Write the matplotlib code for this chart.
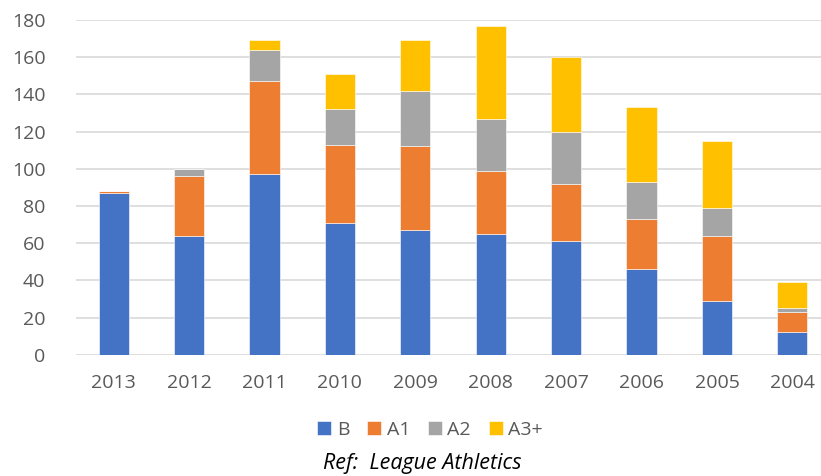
import matplotlib.pyplot as plt
import numpy as np

years = ["2013", "2012", "2011", "2010", "2009", "2008", "2007", "2006", "2005", "2004"]
b_vals = [87, 64, 97, 71, 67, 65, 61, 46, 29, 12]
a1_vals = [1, 32, 50, 42, 45, 34, 31, 27, 35, 11]
a2_vals = [0, 4, 17, 19, 30, 28, 28, 20, 15, 2]
a3_vals = [0, 0, 5, 19, 27, 50, 40, 40, 36, 14]

series = [("B", b_vals, "#4472C4"),
          ("A1", a1_vals, "#ED7D31"),
          ("A2", a2_vals, "#A5A5A5"),
          ("A3+", a3_vals, "#FFC000")]

plt.rcParams['font.family'] = ['Open Sans', 'DejaVu Sans']

fig = plt.figure(figsize=(8.21, 4.76), dpi=100)
ax = fig.add_axes([76/821, 0.2548, 1 - 76/821, 0.958 - 0.2548])

x = np.arange(len(years))
bottom = np.zeros(len(years))
for name, vals, col in series:
    ax.bar(x, vals, 0.4, bottom=bottom, color=col, label=name,
           edgecolor="white", linewidth=0.4, zorder=3)
    bottom += np.array(vals)

ax.set_ylim(0, 180)
ax.set_yticks(range(0, 181, 20))
ax.set_xlim(-0.5, 9.38)
ax.set_xticks(x)
ax.set_xticklabels(years)
ax.grid(axis="y", color="#d9d9d9", linewidth=1.2, zorder=0)
for s in ax.spines.values():
    s.set_visible(False)
ax.tick_params(axis="both", length=0, colors="#595959", labelsize=14)
ax.tick_params(axis="x", pad=14)
ax.tick_params(axis="y", pad=22)

fig.legend(loc="center", bbox_to_anchor=(430/821, 1 - 430/476), ncol=4,
           frameon=False, handlelength=0.72, handleheight=0.72,
           handletextpad=0.3, columnspacing=0.9,
           prop={"size": 14}, labelcolor="#595959")
fig.text(422/821, 1 - 464/476, "Ref:  League Athletics", ha="center", va="center",
         fontsize=15.5, style="italic", color="black")

fig.savefig("out.png", dpi=100)
